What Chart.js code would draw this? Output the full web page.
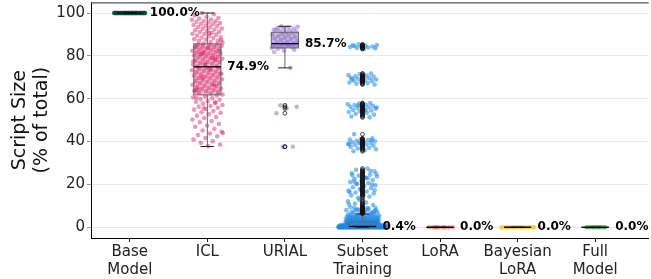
<!DOCTYPE html>
<html>
<head>
<meta charset="utf-8">
<script src="https://cdn.jsdelivr.net/npm/chart.js@4.4.1/dist/chart.umd.min.js"></script>
<style>
  html, body { margin: 0; padding: 0; background: #fff; }
  canvas { display: block; }
</style>
</head>
<body>
<canvas id="scriptChart" width="651" height="279"></canvas>
<script>
// categories on the x axis
const categories = [["Base", "Model"], "ICL", "URIAL", ["Subset", "Training"], "LoRA", ["Bayesian", "LoRA"], ["Full", "Model"]];
const yTicks = [0, 20, 40, 60, 80, 100];

// box statistics (% of total)
const medians = [100.0, 74.9, 85.7, 0.4, 0.0, 0.0, 0.0];
const q1s = [100, 61.8, 83.7, 0.0, 0, 0, 0];
const q3s = [100, 85.6, 91.0, 2.5, 0, 0, 0];
const whiskerLow = [100, 37.7, 74.4, 0.0, 0, 0, 0];
const whiskerHigh = [100, 100, 93.8, 6.2, 0, 0, 0];

// individual scores (strip points)
const baseLevels = [100];
const baseCounts = [45];

const iclScores = [
  85.8, 86.2, 86.5, 86.9, 87.1, 87.6, 87.8, 88.3, 88.5, 88.7, 89.2, 89.4, 89.9, 90.2, 90.3,
  90.8, 91.1, 91.2, 91.7, 92.0, 92.3, 92.6, 92.8, 93.3, 93.5, 93.9, 94.0, 94.4, 94.8, 95.0,
  95.3, 95.6, 95.9, 96.1, 96.3, 96.8, 97.0, 97.4, 97.7, 98.2, 98.9, 99.4, 100, 87.3, 90.6,
  75.0, 75.3, 75.8, 76.0, 76.4, 76.7, 77.1, 77.2, 77.8, 78.0, 78.3, 78.6, 78.9, 79.3, 79.5,
  79.8, 80.2, 80.4, 80.7, 81.0, 81.1, 81.6, 81.9, 82.0, 82.4, 82.7, 83.0, 83.2, 83.5, 83.9,
  84.1, 84.3, 84.6, 84.9, 85.2, 85.4, 76.2, 77.5, 79.1, 80.9, 82.2, 83.7, 84.4, 78.4, 81.4,
  62.0, 62.4, 62.7, 63.1, 63.5, 63.6, 64.1, 64.5, 64.8, 65.0, 65.4, 65.9, 66.1, 66.5, 66.8,
  67.2, 67.3, 67.9, 68.2, 68.4, 68.8, 69.1, 69.5, 69.7, 70.0, 70.4, 70.8, 71.1, 71.3, 71.8,
  72.0, 72.4, 72.6, 73.0, 73.3, 73.5, 74.0, 74.2, 74.6, 63.9, 66.3, 69.9, 71.6, 73.8, 64.3,
  61.5, 61.0, 60.7, 60.2, 59.8, 59.5, 58.9, 58.6, 58.0, 57.7, 57.1, 56.6, 56.3, 55.8, 55.2,
  54.9, 54.3, 53.7, 53.4, 52.8, 52.1, 51.5, 51.0, 50.3, 49.6, 49.0, 48.2, 47.5, 46.9, 46.0,
  45.2, 44.6, 43.8, 43.1, 42.5, 41.7, 41.0, 40.2, 39.4, 38.6, 37.9, 60.4, 58.3, 55.5, 44.0
];

const urialScores = [
  93.8, 93.6, 93.3, 93.0, 92.8, 92.5, 92.2, 91.9, 91.6, 91.3, 91.1, 92.0,
  90.8, 90.4, 90.0, 89.6, 89.3, 88.9, 88.5, 88.1, 87.8, 87.4, 87.0, 86.6, 86.2, 85.9,
  85.6, 85.4, 85.2, 85.0, 84.8, 84.6, 84.4, 84.2, 84.0, 83.8, 85.1,
  83.3, 82.9, 82.4, 81.8, 74.4, 56.9, 56.2, 55.5, 53.2, 37.6, 37.6
];

const subsetScores = [
  85.4, 85.0, 84.8, 84.6, 84.4, 84.3, 84.1, 83.9, 83.7, 83.5, 83.2, 84.9, 71.8,
  71.5, 71.0, 70.8, 70.5, 70.3, 70.1, 69.8, 69.6, 69.3, 69.0, 68.7, 68.5, 68.2, 67.9, 67.6,
  67.3, 67.0, 66.6, 70.6, 69.1,
  58.0, 57.7, 57.4, 57.2, 57.0, 56.7, 56.5, 56.2, 56.0, 55.7, 55.4, 55.1, 54.8, 54.5, 54.1,
  53.8, 53.4, 53.0, 52.6, 52.2, 51.7, 51.3, 56.8, 55.9, 54.6,
  43.4, 41.5, 41.2, 40.9, 40.7, 40.4, 40.1, 39.9, 39.7, 39.4, 39.2, 38.9, 38.7, 38.4, 38.1,
  37.8, 37.5, 37.1, 36.8, 36.4, 36.0, 35.5, 40.6, 39.5, 38.8,
  27.4, 26.8, 26.1, 25.7, 25.2, 24.6, 24.1, 23.7, 23.2, 22.6, 22.1, 21.7, 21.1, 20.6, 20.2,
  19.6, 19.1, 18.7, 18.2, 17.6, 17.1, 16.7, 16.2, 15.8, 15.3, 14.9, 14.4, 13.8, 25.0, 23.0,
  21.4, 19.9, 18.0, 16.5, 22.9, 20.4, 17.4, 15.1, 24.3, 26.4,
  12.8, 12.1, 11.6, 11.0, 10.4, 9.9, 9.3, 8.8, 8.4, 7.9, 7.5, 7.1, 6.8, 6.4, 10.7, 9.0, 8.1, 7.3, 6.6
];
// dense mass near zero, read as value levels with point counts
const subsetLowLevels = [0.0, 0.2, 0.4, 0.7, 1.0];
const subsetLowCounts = [70, 45, 30, 22, 18];
const subsetMidLevels = [1.5, 2.0, 2.5, 3.0, 3.5, 4.0, 4.5, 5.0, 5.5, 6.0, 7.0, 8.0, 9.0];
const subsetMidCounts = [16, 14, 12, 11, 10, 9, 8, 7, 6, 5, 4, 3, 3];

const loraLevels = [0.0];
const loraCounts = [9];
const bayesLevels = [0.0];
const bayesCounts = [16];
const fullLevels = [0.0];
const fullCounts = [8];

const pointColors = [
  "rgba(0,77,64,0.85)", "rgba(216,27,96,0.45)", "rgba(126,87,194,0.45)",
  "rgba(30,136,229,0.55)", "rgba(244,81,30,0.5)", "rgba(255,193,7,0.65)", "rgba(67,160,71,0.8)"
];
const boxFills = [
  "rgba(0,77,64,0.4)", "rgba(216,27,96,0.3)", "rgba(126,87,194,0.4)",
  "rgba(30,136,229,0.4)", "rgba(244,81,30,0.4)", "rgba(255,193,7,0.4)", "rgba(67,160,71,0.4)"
];

function expand(levels, counts) {
  const out = [];
  levels.forEach((v, i) => { for (let k = 0; k < counts[i]; k++) out.push(v); });
  return out;
}

// deterministic strip jitter (horizontal only)
function jitter(k, amp) {
  return (((k * 0.6180339887 + 0.37) % 1) * 2 - 1) * amp;
}

function stripPoints(idx, values, amp) {
  return values.map((v, k) => ({ x: idx + jitter(k, amp), y: v }));
}

const groups = [
  { idx: 0, values: expand(baseLevels, baseCounts), amp: 0.2 },
  { idx: 1, values: iclScores, amp: 0.2 },
  { idx: 2, values: urialScores, amp: 0.17 },
  { idx: 3, values: subsetScores, amp: 0.19 },
  { idx: 3, values: expand(subsetLowLevels, subsetLowCounts), amp: 0.31 },
  { idx: 3, values: expand(subsetMidLevels, subsetMidCounts), amp: 0.22 },
  { idx: 4, values: expand(loraLevels, loraCounts), amp: 0.17 },
  { idx: 5, values: expand(bayesLevels, bayesCounts), amp: 0.22 },
  { idx: 6, values: expand(fullLevels, fullCounts), amp: 0.13 },
];

const datasets = groups.map((g) => ({
  data: stripPoints(g.idx, g.values, g.amp),
  pointRadius: 2.3,
  pointBorderWidth: 0,
  pointBackgroundColor: pointColors[g.idx],
  pointHoverRadius: 2.3,
}));

const BOX_W = 0.35;

const boxPlugin = {
  id: "boxes",
  beforeDatasetsDraw(chart) {
    const { ctx, scales: { x, y } } = chart;
    ctx.save();
    categories.forEach((c, i) => {
      const x0 = x.getPixelForValue(i - BOX_W / 2);
      const x1 = x.getPixelForValue(i + BOX_W / 2);
      const top = y.getPixelForValue(q3s[i]);
      const bot = y.getPixelForValue(q1s[i]);
      ctx.fillStyle = boxFills[i];
      ctx.fillRect(x0, top, x1 - x0, bot - top);
    });
    ctx.restore();
  },
  afterDatasetsDraw(chart) {
    const { ctx, scales: { x, y }, chartArea } = chart;
    ctx.save();
    // top spine
    ctx.strokeStyle = "#555";
    ctx.lineWidth = 1.2;
    ctx.beginPath();
    ctx.moveTo(chartArea.left, chartArea.top + 0.5);
    ctx.lineTo(chartArea.right, chartArea.top + 0.5);
    ctx.stroke();

    categories.forEach((c, i) => {
      const cx = x.getPixelForValue(i);
      const x0 = x.getPixelForValue(i - BOX_W / 2);
      const x1 = x.getPixelForValue(i + BOX_W / 2);
      const cap0 = x.getPixelForValue(i - BOX_W / 4);
      const cap1 = x.getPixelForValue(i + BOX_W / 4);
      const top = y.getPixelForValue(q3s[i]);
      const bot = y.getPixelForValue(q1s[i]);
      const wHi = y.getPixelForValue(whiskerHigh[i]);
      const wLo = y.getPixelForValue(whiskerLow[i]);
      const med = y.getPixelForValue(medians[i]);

      ctx.lineWidth = 1;
      ctx.strokeStyle = "#666";
      ctx.strokeRect(x0, top, x1 - x0, bot - top);
      ctx.beginPath();
      ctx.moveTo(cx, top); ctx.lineTo(cx, wHi);
      ctx.moveTo(cx, bot); ctx.lineTo(cx, wLo);
      ctx.stroke();
      ctx.strokeStyle = "#222";
      ctx.beginPath();
      ctx.moveTo(cap0, wHi); ctx.lineTo(cap1, wHi);
      ctx.moveTo(cap0, wLo); ctx.lineTo(cap1, wLo);
      ctx.stroke();

      ctx.strokeStyle = "#000";
      ctx.lineWidth = 1.3;
      ctx.beginPath();
      ctx.moveTo(x0, med); ctx.lineTo(x1, med);
      ctx.stroke();

      // fliers: points beyond the whiskers
      const vals = groups.filter((g) => g.idx === i).flatMap((g) => g.values);
      ctx.lineWidth = 0.8;
      ctx.strokeStyle = "#111";
      vals.filter((v) => v > whiskerHigh[i] || v < whiskerLow[i]).forEach((v) => {
        ctx.beginPath();
        ctx.arc(cx, y.getPixelForValue(v), 1.9, 0, Math.PI * 2);
        ctx.stroke();
      });

      // median label
      ctx.fillStyle = "#000";
      ctx.font = "bold 12px 'DejaVu Sans'";
      ctx.textAlign = "left";
      ctx.textBaseline = "middle";
      ctx.fillText(medians[i].toFixed(1) + "%", cx + 20, med);
    });
    ctx.restore();
  },
};

Chart.defaults.font.family = "'DejaVu Sans', sans-serif";

new Chart(document.getElementById("scriptChart"), {
  type: "scatter",
  data: { datasets },
  options: {
    responsive: false,
    animation: false,
    layout: { padding: { top: 2, right: 0, left: 0, bottom: 0 } },
    plugins: { legend: { display: false }, tooltip: { enabled: false } },
    scales: {
      x: {
        type: "linear",
        min: -0.5,
        max: 6.69,
        afterBuildTicks: (s) => { s.ticks = categories.map((c, i) => ({ value: i })); },
        afterFit: (s) => { s.height = 41; s.paddingLeft = 0; s.paddingRight = 0; },
        ticks: {
          callback: (v) => categories[v],
          font: { size: 15, lineHeight: 1.2 },
          color: "#222",
          padding: 1,
          maxRotation: 0,
          autoSkip: false,
        },
        grid: { drawOnChartArea: false, tickLength: 4, color: "#222" },
        border: { color: "#000", width: 1 },
      },
      y: {
        min: -5,
        max: 105,
        afterBuildTicks: (s) => { s.ticks = yTicks.map((v) => ({ value: v })); },
        afterFit: (s) => { s.width = 91; s.paddingTop = 0; s.paddingBottom = 0; },
        ticks: { font: { size: 15 }, color: "#222", padding: 2 },
        grid: { color: "#e8e8e8", tickLength: 4, tickColor: "#999" },
        border: { color: "#000", width: 1 },
        title: {
          display: true,
          text: ["Script Size", "(% of total)"],
          font: { size: 19, lineHeight: 1.15 },
          color: "#111",
          padding: { top: 9, bottom: 0 },
        },
      },
    },
  },
  plugins: [boxPlugin],
});
</script>
</body>
</html>
